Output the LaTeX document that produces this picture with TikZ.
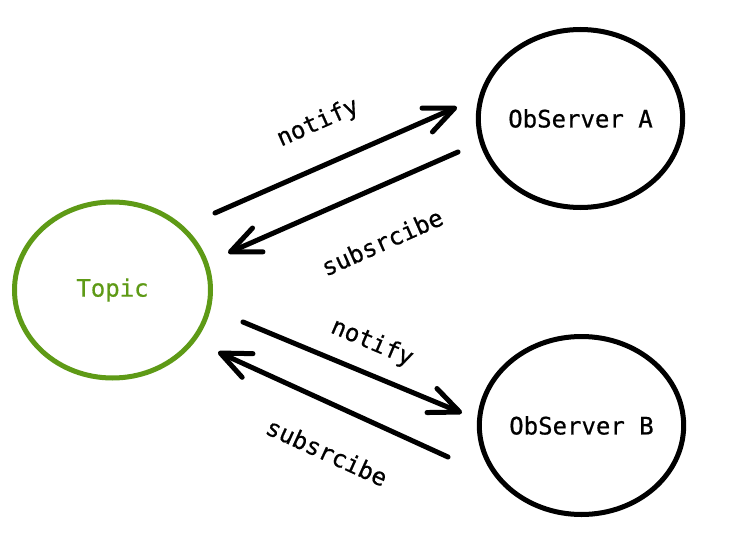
\documentclass[tikz,border=0pt]{standalone}
\usepackage{fontspec}
\setmonofont[FakeBold=0.6]{DejaVu Sans Mono}
\usetikzlibrary{arrows.meta,shapes.geometric,calc}
\definecolor{topicgreen}{RGB}{94,154,22}
\tikzset{
  bubble/.style={ellipse, draw=black, line width=5pt, inner sep=0pt, minimum width=200pt, minimum height=178pt, font=\ttfamily\fontsize{24}{28}\selectfont},
  topicbubble/.style={bubble, draw=topicgreen, text=topicgreen, minimum width=196pt, minimum height=176pt},
  conn/.style={line width=5pt, line cap=round, -{Straight Barb[length=30pt, width=26pt, line width=5pt, round]}},
  lbl/.style={inner sep=0pt, font=\ttfamily\fontsize{24}{28}\selectfont}
}
\begin{document}
\begin{tikzpicture}[x=1pt, y=-1pt]
\useasboundingbox (0,0) rectangle (730,548);
\node[topicbubble] (topic) at (112.5,290) {Topic};
\node[bubble] (obsA) at (580.5,118.5) {ObServer A};
\node[bubble] (obsB) at (581.5,425.5) {ObServer B};

\coordinate (a1s) at ($(topic.center)+(102.5,-77)$);
\coordinate (a1e) at ($(obsA.center)+(-123.5,-11.5)$);
\coordinate (a2s) at ($(obsA.center)+(-122.5,33.5)$);
\coordinate (a2e) at ($(topic.center)+(115.5,-37)$);
\coordinate (b1s) at ($(topic.center)+(130.5,32)$);
\coordinate (b1e) at ($(obsB.center)+(-119.5,-12.5)$);
\coordinate (b2s) at ($(obsB.center)+(-133.5,31.5)$);
\coordinate (b2e) at ($(topic.center)+(105.5,62)$);

\draw[conn] (a1s) -- (a1e);
\draw[conn] (a2s) -- (a2e);
\draw[conn] (b1s) -- (b1e);
\draw[conn] (b2s) -- (b2e);

\node[lbl, rotate=24] (lna) at (318,123) {notify};
\node[lbl, rotate=24] (lsa) at (382,242) {subsrcibe};
\node[lbl, rotate=-23] (lnb) at (372,343) {notify};
\node[lbl, rotate=-24.5] (lsb) at (327,452) {subsrcibe};
\end{tikzpicture}
\end{document}
